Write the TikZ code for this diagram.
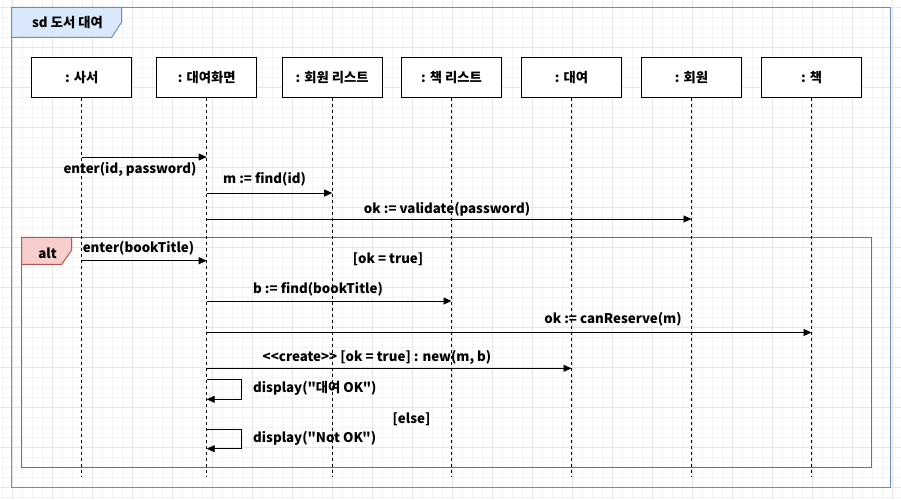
\documentclass[tikz,border=0pt]{standalone}
\usepackage{fontspec}
\setmainfont{Noto Sans CJK KR}[Ligatures=TeXOff]
\usetikzlibrary{arrows.meta}
\definecolor{gridminor}{HTML}{F3F3F3}
\definecolor{gridmajor}{HTML}{E6E6E6}
\definecolor{frameblue}{HTML}{6C8EBF}
\definecolor{tabblue}{HTML}{DAE8FC}
\definecolor{framered}{HTML}{B85450}
\definecolor{tabred}{HTML}{F8CECC}
\begin{document}
\begin{tikzpicture}[x=1pt,y=-1pt,
  lbl/.style={font=\bfseries\fontsize{13.3}{15}\selectfont, inner sep=0pt},
  obj/.style={draw, line width=1pt, fill=white, minimum width=100pt, minimum height=40pt, inner sep=0pt, font=\bfseries\fontsize{13.3}{15}\selectfont},
  lifeline/.style={line width=0.9pt, dash pattern=on 3pt off 3pt},
  msg/.style={-{Triangle[length=8pt,width=7pt]}, line width=0.9pt}]
\useasboundingbox (0,0) rectangle (901,499);
\fill[white] (0,0) rectangle (901,499);
% grid
\foreach \x in {2,12,...,892} \draw[gridminor, line width=0.8pt] (\x,0) -- (\x,499);
\foreach \y in {7,17,...,497} \draw[gridminor, line width=0.8pt] (0,\y) -- (901,\y);
\foreach \x in {12,52,...,892} \draw[gridmajor, line width=0.8pt] (\x,0) -- (\x,499);
\foreach \y in {7,47,...,487} \draw[gridmajor, line width=0.8pt] (0,\y) -- (901,\y);
% sd frame
\draw[frameblue, line width=1pt] (11.7,7.3) rectangle (890.5,487);
\draw[frameblue, line width=1pt, fill=tabblue] (11.7,7.3) -- (121.7,7.3) -- (121.7,22) -- (111.7,37.3) -- (11.7,37.3) -- cycle;
\node[lbl] (sdlabel) at (67.5,23) {sd 도서 대여};
% alt frame
\draw[framered, line width=1pt] (21.7,237.3) rectangle (871,467.3);
\draw[framered, line width=1pt, fill=tabred] (21.7,237.3) -- (71.7,237.3) -- (71.7,250) -- (61.7,264.3) -- (21.7,264.3) -- cycle;
\node[lbl] (altlabel) at (47.5,253) {alt};
% lifeline heads
\node[obj] (o1) at (81.7,77.3) {: 사서};
\node[obj] (o2) at (206.7,77.3) {: 대여화면};
\node[obj] (o3) at (332.2,77.3) {: 회원 리스트};
\node[obj] (o4) at (451.5,77.3) {: 책 리스트};
\node[obj] (o5) at (571.5,77.3) {: 대여};
\node[obj] (o6) at (691.5,77.3) {: 회원};
\node[obj] (o7) at (811.5,77.3) {: 책};
% lifeline ends
\foreach \i/\x in {1/81.7,2/206.7,3/332.2,4/451.5,5/571.5,6/691.5,7/811.5}
  \coordinate (e\i) at (\x,477);
\foreach \i in {1,...,7} \draw[lifeline] (o\i.south) -- (e\i);
% message end points
\coordinate (m1a) at (81.7,157); \coordinate (m1b) at (206.7,157);
\coordinate (m2a) at (206.7,193); \coordinate (m2b) at (332.2,193);
\coordinate (m3a) at (206.7,219); \coordinate (m3b) at (691.5,219);
\coordinate (m4a) at (81.7,260.7); \coordinate (m4b) at (206.7,260.7);
\coordinate (m5a) at (206.7,301); \coordinate (m5b) at (451.5,301);
\coordinate (m6a) at (206.7,332.5); \coordinate (m6b) at (811.5,332.5);
\coordinate (m7a) at (206.7,368.3); \coordinate (m7b) at (571.5,368.3);
\coordinate (d1a) at (206.7,379.3); \coordinate (d1b) at (241.7,379.3);
\coordinate (d1c) at (241.7,399.3); \coordinate (d1d) at (206.7,399.3);
\coordinate (d2a) at (206.7,429.3); \coordinate (d2b) at (241.7,429.3);
\coordinate (d2c) at (241.7,448.7); \coordinate (d2d) at (206.7,448.7);
% messages
\draw[msg] (m1a) -- (m1b);
\node[lbl] (t1) at (130,169.5) {enter(id, password)};
\draw[msg] (m2a) -- (m2b);
\node[lbl] (t2) at (264.5,179.5) {m := find(id)};
\draw[msg] (m3a) -- (m3b);
\node[lbl] (t3) at (447,209.5) {ok := validate(password)};
\draw[msg] (m4a) -- (m4b);
\node[lbl] (t4) at (138.5,248.5) {enter(bookTitle)};
\node[lbl] (g1) at (388,259.5) {[ok = true]};
\draw[msg] (m5a) -- (m5b);
\node[lbl] (t5) at (318,289.5) {b := find(bookTitle)};
\draw[msg] (m6a) -- (m6b);
\node[lbl] (t6) at (613,319.5) {ok := canReserve(m)};
\draw[msg] (m7a) -- (m7b);
\node[lbl] (t7) at (377,357.5) {<{}<create>{}> [ok = true] : new(m, b)};
\draw[msg] (d1a) -- (d1b) -- (d1c) -- (d1d);
\node[lbl, anchor=west] (t8) at (253,388.5) {display("대여 OK")};
\node[lbl] (g2) at (411.5,419.5) {[else]};
\draw[msg] (d2a) -- (d2b) -- (d2c) -- (d2d);
\node[lbl, anchor=west] (t9) at (253,438.5) {display("Not OK")};
\end{tikzpicture}
\end{document}
